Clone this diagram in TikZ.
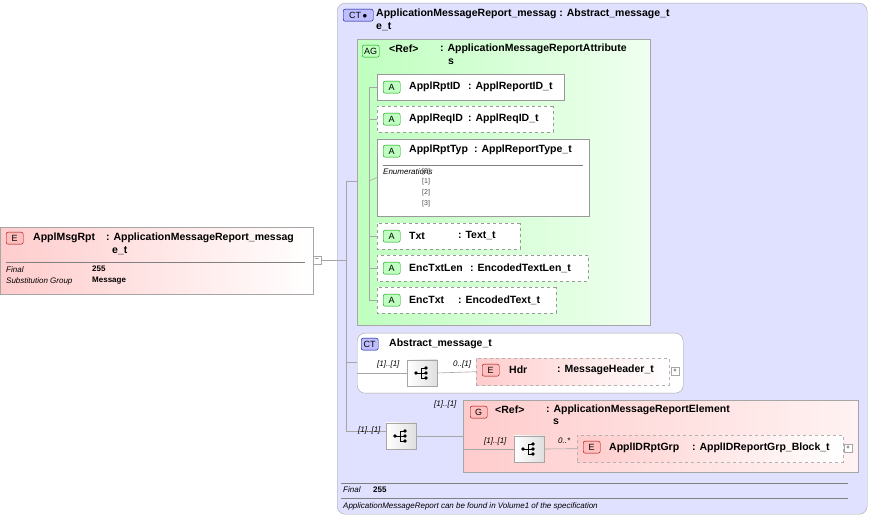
\documentclass[tikz,border=0pt]{standalone}
\usepackage{fontspec}
\setmainfont{Liberation Sans}
\usetikzlibrary{shapes.misc}
\begin{document}
\begin{tikzpicture}[x=1pt,y=-1pt,
  lbl/.style={font=\bfseries\fontsize{10.5}{12}\selectfont,anchor=west,inner sep=0pt},
  sm/.style={font=\itshape\fontsize{8}{9}\selectfont,anchor=west,inner sep=0pt},
  smb/.style={font=\bfseries\fontsize{8}{9}\selectfont,anchor=west,inner sep=0pt},
  con/.style={draw=gray!70,line width=0.6pt},
  badge/.style={draw=#1!60!black,fill=#1!25,rounded corners=2pt,minimum width=17pt,minimum height=12pt,inner sep=0pt,font=\fontsize{9}{10}\selectfont,anchor=north west},
  attr/.style={draw=gray!80,fill=white,chamfered rectangle,chamfered rectangle corners={north west,south west},chamfered rectangle xsep=5pt,inner sep=0pt},
  expbox/.style={draw=gray!70,fill=white,minimum size=8pt,inner sep=0pt,font=\fontsize{6}{6}\selectfont},
  seq/.style={draw=gray!70,left color=white,right color=gray!25,minimum width=30pt,minimum height=26pt,inner sep=0pt},
]
\useasboundingbox (0,0) rectangle (871,521);
\newcommand\seqicon[1]{%
  \begin{scope}[shift={(#1.center)}]
  \draw[line width=0.7pt] (-6,0) -- (-1,0) (-1,-5) -- (-1,5) (-1,-5) -- (4,-5) (-1,0) -- (4,0) (-1,5) -- (4,5);
  \fill (-6,0) circle (1.8) (4,-5) circle (1.8) (4,0) circle (1.8) (4,5) circle (1.8);
  \end{scope}}
% main element
\node[draw=gray!70,left color=red!20,right color=white,minimum width=313pt,minimum height=67pt,anchor=north west,inner sep=0pt] (el) at (0,227) {};
\node[badge=red] (eb) at (6,232) {E};
\node[lbl] at (33,238) {ApplMsgRpt};
\node[lbl] at (106,238) {: ApplicationMessageReport\_messag};
\node[lbl] at (112,251) {e\_t};
\draw[gray] (6,262) -- (305,262);
\node[sm] at (6,270) {Final}; \node[smb] at (92,269) {255};
\node[sm] at (6,281) {Substitution Group}; \node[smb] at (92,281) {Message};
\node[expbox] (ex0) at (317,260) {--};
% big CT
\node[draw=gray!70,fill=blue!12,rounded corners=8pt,minimum width=530pt,minimum height=511pt,anchor=north west,inner sep=0pt] (ct) at (337,3) {};
\node[badge=blue,minimum width=30pt] (ctb) at (343,9) {CT\,$\bullet$};
\node[lbl] at (376,14) {ApplicationMessageReport\_messag : Abstract\_message\_t};
\node[lbl] at (376,27) {e\_t};
% AG
\node[draw=gray!70,left color=green!25,right color=green!6,minimum width=293pt,minimum height=286pt,anchor=north west,inner sep=0pt] (ag) at (357,39) {};
\node[badge=green] (agb) at (362,45) {AG};
\node[lbl] at (389,49) {<Ref>};
\node[lbl] at (440,49) {: ApplicationMessageReportAttribute};
\node[lbl] at (448,62) {s};
% attributes
\node[attr,minimum width=187pt,minimum height=26pt,anchor=north west] (a1) at (377,74) {};
\node[badge=green] at (383,81) {A}; \node[lbl] at (409,87) {ApplRptID}; \node[lbl] at (468,87) {: ApplReportID\_t};
\node[attr,dashed,minimum width=176pt,minimum height=26pt,anchor=north west] (a2) at (377,106) {};
\node[badge=green] at (383,113) {A}; \node[lbl] at (409,119) {ApplReqID}; \node[lbl] at (468,119) {: ApplReqID\_t};
\node[attr,minimum width=212pt,minimum height=77pt,anchor=north west] (a3) at (377,139) {};
\node[badge=green] at (383,145) {A}; \node[lbl] at (409,150) {ApplRptTyp}; \node[lbl] at (474,150) {: ApplReportType\_t};
\draw[gray] (383,165) -- (583,165);
\node[sm] at (383,172) {Enumerations};
\foreach \i/\y in {0/172,1/182,2/193,3/204} \node[font=\fontsize{7}{8}\selectfont,anchor=west,inner sep=0pt,gray!60!black] at (422,\y) {[\i]};
\node[attr,dashed,minimum width=143pt,minimum height=26pt,anchor=north west] (a4) at (377,223) {};
\node[badge=green] at (383,230) {A}; \node[lbl] at (409,236) {Txt}; \node[lbl] at (458,236) {: Text\_t};
\node[attr,dashed,minimum width=211pt,minimum height=26pt,anchor=north west] (a5) at (377,255) {};
\node[badge=green] at (383,262) {A}; \node[lbl] at (409,268) {EncTxtLen}; \node[lbl] at (470,268) {: EncodedTextLen\_t};
\node[attr,dashed,minimum width=179pt,minimum height=26pt,anchor=north west] (a6) at (377,287) {};
\node[badge=green] at (383,294) {A}; \node[lbl] at (409,300) {EncTxt}; \node[lbl] at (458,300) {: EncodedText\_t};
\coordinate (av) at (369,87);
\draw[con] (369,87) -- (369,300);
\foreach \a in {a1,a2,a4,a5,a6} \draw[con] (\a.west -| av) -- (\a.west);
\draw[con] (369,181) -- (a3.west);
% main tree
\draw[con] (ex0.east) -- (346,260);
\draw[con] (346,181) -- (346,431);
\draw[con] (346,181) -- (ag.west |- 0,181);
% CT2
\node[draw=gray!70,fill=white,rounded corners=8pt,minimum width=326pt,minimum height=60pt,anchor=north west,inner sep=0pt] (ct2) at (357,333) {};
\node[badge=blue] at (361,338) {CT};
\node[lbl] at (389,344) {Abstract\_message\_t};
\draw[con] (346,362) -- (357,362);
\node[seq] (s1) at (422,373) {}; \seqicon{s1}
\draw[con] (357,373) -- (s1.west);
\node[sm] at (377,364) {[1]..[1]};
\node[draw=gray!60,dashed,left color=red!20,right color=white,minimum width=193pt,minimum height=27pt,anchor=north west,inner sep=0pt] (hdr) at (476,358) {};
\draw[con] (s1.east) -- (hdr.west);
\node[sm] at (453,364) {0..[1]};
\node[badge=red] at (482,364) {E};
\node[lbl] at (509,370) {Hdr}; \node[lbl] at (557,370) {: MessageHeader\_t};
\node[expbox] at (675,371) {+};
% G
\node[draw=gray!70,left color=red!20,right color=red!5,minimum width=395pt,minimum height=72pt,anchor=north west,inner sep=0pt] (g) at (463,400) {};
\node[badge=red] at (470,406) {G};
\node[lbl] at (495,410) {<Ref>};
\node[lbl] at (546,410) {: ApplicationMessageReportElement};
\node[lbl] at (553,422) {s};
\node[sm] at (434,404) {[1]..[1]};
\node[seq] (s2) at (401,436) {}; \seqicon{s2}
\draw[con] (346,431) -- (s2.west |- 0,431);
\node[sm] at (358,430) {[1]..[1]};
\draw[con] (s2.east) -- (g.west |- 0,436);
\node[seq] (s3) at (529,449) {}; \seqicon{s3}
\draw[con] (g.west |- 0,449) -- (s3.west);
\node[sm] at (484,441) {[1]..[1]};
\node[draw=gray!60,dashed,left color=red!20,right color=white,minimum width=266pt,minimum height=27pt,anchor=north west,inner sep=0pt] (grp) at (577,435) {};
\draw[con] (s3.east) -- (grp.west);
\node[sm] at (558,441) {0..*};
\node[badge=red] at (583,441) {E};
\node[lbl] at (609,448) {ApplIDRptGrp}; \node[lbl] at (692,448) {: ApplIDReportGrp\_Block\_t};
\node[expbox] at (848,448) {+};
% footer
\draw[gray] (341,483) -- (848,483);
\node[sm] at (343,490) {Final}; \node[smb] at (373,490) {255};
\draw[gray] (341,498) -- (848,498);
\node[sm] at (343,506) {ApplicationMessageReport can be found in Volume1 of the specification};
\end{tikzpicture}
\end{document}
